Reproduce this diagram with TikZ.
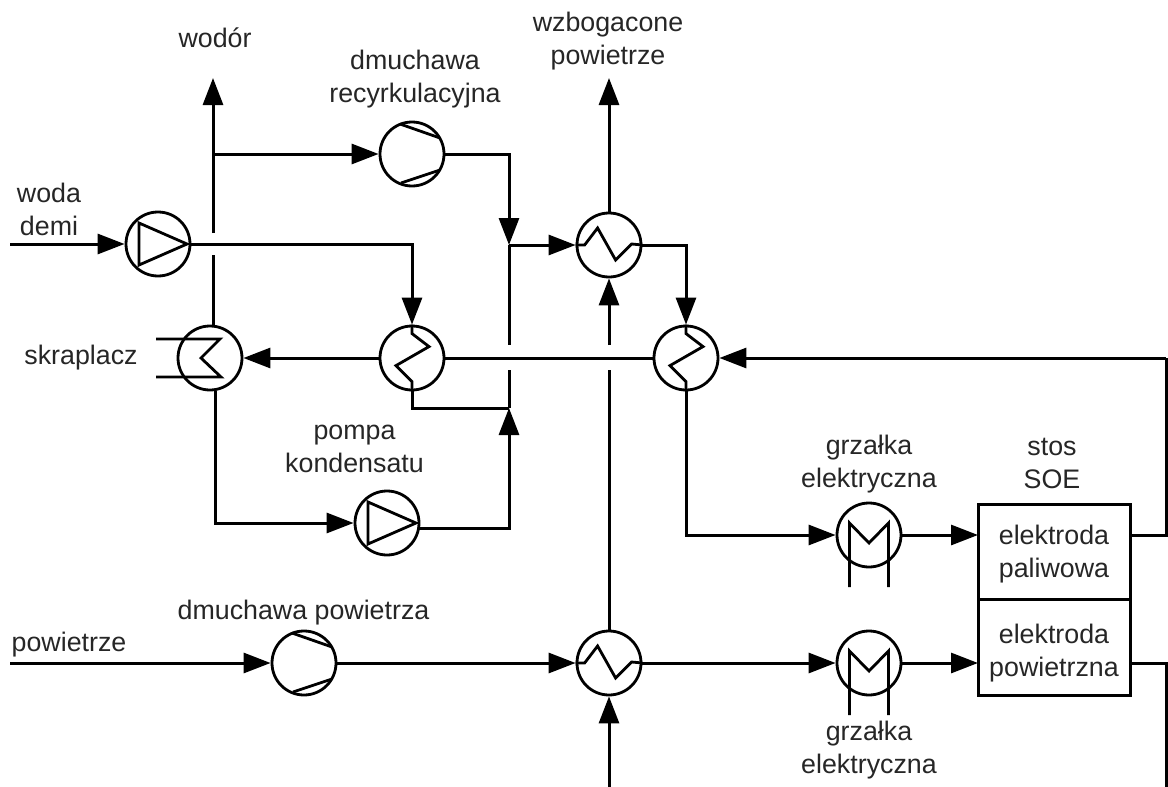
\documentclass[tikz,border=0pt]{standalone}
\usepackage{fontspec}
\setmainfont{Liberation Sans}
\usetikzlibrary{arrows.meta,positioning,calc}

\begin{document}
\begin{tikzpicture}[x=1pt, y=-1pt,
        every node/.style={font=\fontsize{26.8}{33}\selectfont, text=black!85, align=center},
        unit/.style={draw, circle, line width=2.8pt, minimum size=64pt, inner sep=0pt, text=black},
        elbox/.style={draw, rectangle, line width=3pt, minimum width=152pt, minimum height=95.5pt, inner sep=0pt, outer sep=0pt},
        pipe/.style={line width=3pt},
        flow/.style={line width=3pt, -{Triangle[length=27pt,width=20pt]}},
        symb/.style={line width=2.8pt}
      ]
        % Fixe Bounding-Box
        \useasboundingbox (0,0) rectangle (1168,787);

        % Apparate
        \node[unit] (pump1) at (158,244) {};
        \node[unit] (pump2) at (387,523) {};
        \node[unit] (blow1) at (412,154) {};
        \node[unit] (blow2) at (304,663) {};
        \node[unit] (cond) at (210,358) {};
        \node[unit] (hxa) at (412,358) {};
        \node[unit] (hxb) at (686,358) {};
        \node[unit] (hxc) at (609,245) {};
        \node[unit] (hxd) at (609,663) {};
        \node[unit] (heat1) at (869,535) {};
        \node[unit] (heat2) at (869,663) {};

        % Stos
        \node[elbox, text height=58pt] (fuel) at (1054,551.75) {elektroda\\paliwowa};
        \node[elbox, text height=64pt, below=0pt of fuel] (air) {elektroda\\powietrzna};

        % Symbole
        \foreach \nn in {pump1,pump2} {\draw[symb] (\nn) ++(-19,-21) -- ++(48,21) -- ++(-48,21) -- cycle;}
        \foreach \nn in {blow1,blow2} {
          \draw[symb] (\nn) ++(-12,-30) -- ++(40,14);
          \draw[symb] (\nn) ++(-11,29) -- ++(39,-13);
        }
        \foreach \nn in {hxa,hxb} {\draw[symb] (\nn.north) -- ++(0,9) -- ++(17,13) -- ++(-33,19) -- ++(16,16) -- (\nn.south);}
        \foreach \nn in {hxc,hxd} {\draw[symb] (\nn.west) -- ++(9,0) -- ++(13,-17) -- ++(18,32) -- ++(16,-16) -- (\nn.east);}
        \foreach \nn in {heat1,heat2} {\draw[symb] (\nn) ++(-19.5,52) -- ++(0,-64) -- ++(19.5,20) -- ++(19.5,-20) -- ++(0,64);}
        \draw[symb] (cond) ++(-54,-19) -- ++(64,0) -- ++(-19,19) -- ++(20,19) -- ++(-65,0);

        % Hilfspunkte
        \coordinate (wsrc) at (10,244);
        \coordinate (asrc) at (10,663);
        \coordinate (h2out) at (213,78);
        \coordinate (h2tee) at (213,154);
        \coordinate (h2gapa) at (213,233);
        \coordinate (h2gapb) at (213,255);
        \coordinate (h2end) at (213,327);
        \coordinate (condlow) at (215,391);
        \coordinate (mixa) at (509,245);
        \coordinate (mixgapa) at (509,345);
        \coordinate (mixgapb) at (509,370);
        \coordinate (mixb) at (509,408);
        \coordinate (pumpout) at (419,528);
        \coordinate (richout) at (609,78);
        \coordinate (airgapa) at (609,345);
        \coordinate (airgapb) at (609,370);
        \coordinate (rail) at (1166,358);
        \coordinate (railb) at (1166,787);
        \coordinate (exin) at (609,787);

        % Wasser und Wasserstoff
        \draw[flow] (wsrc) -- (pump1.west);
        \draw[flow] (pump1.east) -| (hxa.north);
        \draw[flow] (h2gapa) -- (h2out);
        \draw[pipe] (h2end) -- (h2gapb);
        \draw[flow] (h2tee) -- (blow1.west);
        \draw[flow] (blow1.east) -| (mixa);
        \draw[flow] (mixa) -- (hxc.west);
        \draw[pipe] (mixa) -- (mixgapa);
        \draw[pipe] (mixgapb) -- (mixb);
        \draw[pipe] (hxa.south) |- (mixb);
        \draw[flow] (condlow) |- (pump2.west);
        \draw[flow] (pumpout) -| (mixb);
        \draw[flow] (hxa.west) -- (cond.east);
        \draw[pipe] (hxb.west) -- (hxa.east);

        % Luft
        \draw[flow] (asrc) -- (blow2.west);
        \draw[flow] (blow2.east) -- (hxd.west);
        \draw[flow] (hxd.east) -- (heat2.west);
        \draw[flow] (heat2.east) -- (heat2 -| air.west);
        \draw[pipe] (heat2 -| air.east) -| (railb);
        \draw[flow] (exin) -- (hxd.south);
        \draw[pipe] (hxd.north) -- (airgapb);
        \draw[flow] (airgapa) -- (hxc.south);
        \draw[flow] (hxc.north) -- (richout);

        % Brennstoffseite
        \draw[flow] (hxc.east) -| (hxb.north);
        \draw[flow] (hxb.south) |- (heat1.west);
        \draw[flow] (heat1.east) -- (heat1 -| fuel.west);
        \draw[pipe] (heat1 -| fuel.east) -| (rail);
        \draw[flow] (rail) -- (hxb.east);

        % Beschriftung
        \node (lbh) at (215,38) {wodór};
        \node (lbb) at (415,79.5) {dmuchawa\\recyrkulacyjna};
        \node (lbr) at (608,41.5) {wzbogacone\\powietrze};
        \node (lbw) at (49,209) {woda\\demi};
        \node (lbc) at (81,358) {skraplacz};
        \node (lbp) at (354.5,448.5) {pompa\\kondensatu};
        \node (lbg) at (869,464.5) {grzałka\\elektryczna};
        \node (lbs) at (1052,463.5) {stos\\SOE};
        \node (lba) at (303.5,613) {dmuchawa powietrza};
        \node (lbl) at (69,645) {powietrze};
        \node (lbk) at (869,750.5) {grzałka\\elektryczna};
      \end{tikzpicture}
\end{document}
